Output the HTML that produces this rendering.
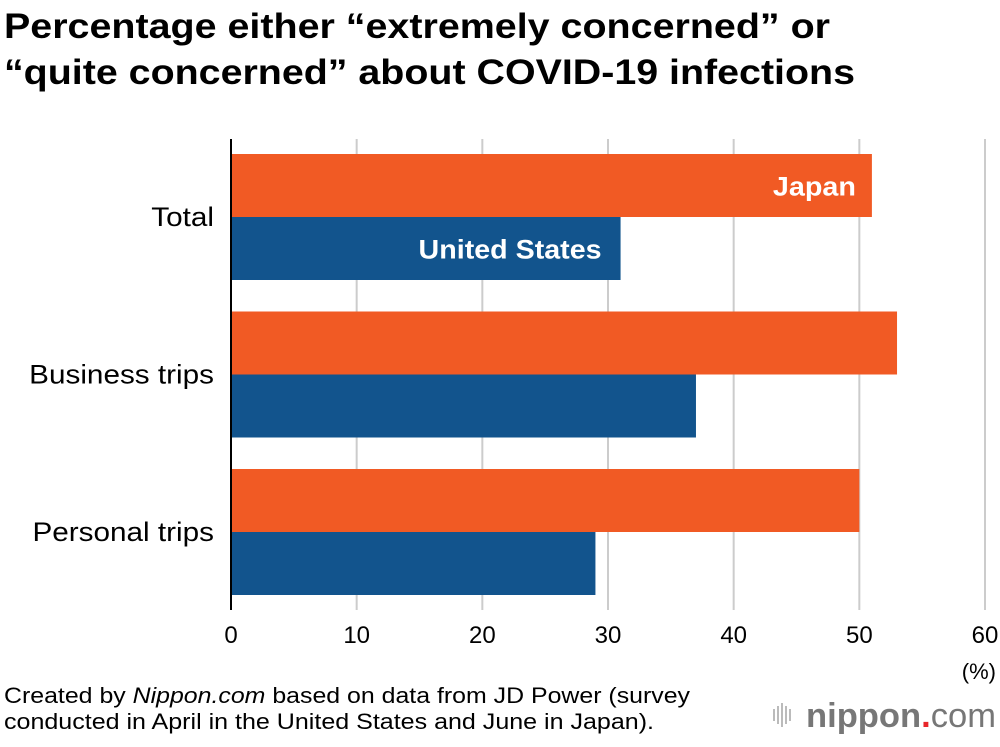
<!DOCTYPE html>
<html><head><meta charset="utf-8"><style>
body{margin:0;background:#fff;width:1000px;height:742px;overflow:hidden;font-family:"Liberation Sans",Arial,sans-serif}
</style></head><body>
<svg id="chart" width="1000" height="742" xmlns="http://www.w3.org/2000/svg" font-family="Liberation Sans, Arial, sans-serif">
<text x="4" y="38" font-size="35" font-weight="bold" fill="#000" textLength="826" lengthAdjust="spacingAndGlyphs">Percentage either “extremely concerned” or</text>
<text x="4" y="84" font-size="35" font-weight="bold" fill="#000" textLength="851" lengthAdjust="spacingAndGlyphs">“quite concerned” about COVID-19 infections</text>
<g id="grid"></g>
<g id="bars"></g>
<g id="ticks"></g>
<g id="cats"></g>
<text x="996" y="679" font-size="22" text-anchor="end" fill="#000">(%)</text>
<text x="4" y="703" font-size="22" fill="#000" textLength="686" lengthAdjust="spacingAndGlyphs">Created by <tspan font-style="italic">Nippon.com</tspan> based on data from JD Power (survey</text>
<text x="4" y="729" font-size="22" fill="#000" textLength="650" lengthAdjust="spacingAndGlyphs">conducted in April in the United States and June in Japan).</text>
<g>
<rect x="773" y="709" width="2" height="12" fill="#bbb"/><rect x="777" y="706" width="2" height="18" fill="#bbb"/><rect x="781" y="703" width="2" height="24" fill="#bbb"/><rect x="785" y="706" width="2" height="18" fill="#bbb"/><rect x="789" y="709" width="2" height="12" fill="#bbb"/>
<text x="806" y="727" font-size="34" fill="#777" font-weight="bold" textLength="190" lengthAdjust="spacingAndGlyphs">nippon<tspan fill="#e8262a">.</tspan><tspan font-weight="normal">com</tspan></text>
</g>
</svg>
<script>
const categories=["Total","Business trips","Personal trips"];
const japanValues=[51,53,50];
const usValues=[31,37,29];
const tickLabels=[0,10,20,30,40,50,60];
const NS="http://www.w3.org/2000/svg";
const x0=231,x1=985,xMax=60;
const xs=v=>x0+(x1-x0)*v/xMax;
const groupTop=[154,312,469], barH=63;
function mk(t,a,p){const e=document.createElementNS(NS,t);for(const k in a)e.setAttribute(k,a[k]);p.appendChild(e);return e;}
const grid=document.getElementById('grid'),bars=document.getElementById('bars'),ticks=document.getElementById('ticks'),cats=document.getElementById('cats');
tickLabels.forEach(t=>{
 if(t>0){const l=mk('line',{x1:xs(t),x2:xs(t),y1:139,y2:610,stroke:'#ccc','stroke-width':2},grid);
 
 }
 const tx=mk('text',{x:xs(t),y:643,'font-size':24,'text-anchor':'middle',fill:'#000'},ticks);tx.textContent=t;
 
 
});
categories.forEach((c,i)=>{
 const gt=groupTop[0]+i*157.5;
 const j=mk('rect',{x:x0,y:gt,width:xs(japanValues[i])-x0,height:barH,fill:'#f15a24'},bars);
 
 
 const u=mk('rect',{x:x0,y:gt+barH,width:xs(usValues[i])-x0,height:barH,fill:'#12548d'},bars);
 
 
 const ct=mk('text',{x:214,y:gt+barH+9,'font-size':27,'text-anchor':'end',fill:'#000',transform:`translate(214 0) scale(1.1 1) translate(-214 0)`},cats);ct.textContent=c;
 
 
 if(i===0){
  const jl=mk('text',{x:xs(japanValues[i])-16,y:gt+barH/2+10,'font-size':27,'font-weight':'bold','text-anchor':'end',fill:'#fff',textLength:83,lengthAdjust:'spacingAndGlyphs'},bars);jl.textContent='Japan';
  
  
  const ul=mk('text',{x:xs(usValues[i])-19,y:gt+barH*1.5+10,'font-size':27,'font-weight':'bold','text-anchor':'end',fill:'#fff',textLength:183,lengthAdjust:'spacingAndGlyphs'},bars);ul.textContent='United States';
  
  
 }
});
const ax=mk('line',{x1:x0,x2:x0,y1:139,y2:610,stroke:'#000','stroke-width':2},cats);


</script>
</body></html>
